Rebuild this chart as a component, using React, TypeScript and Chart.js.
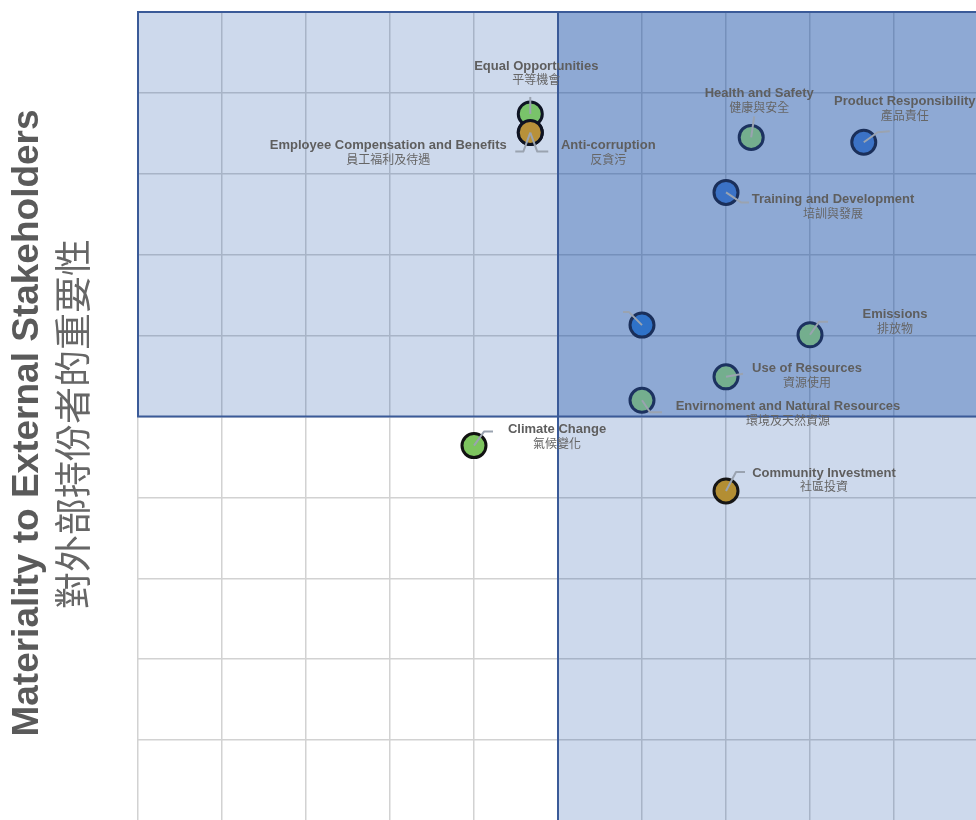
import React, { useEffect, useRef } from "react";
import { Chart, registerables } from "chart.js";

Chart.register(...registerables);

// ---- data ----
const topicsEn = [
  "Anti-corruption",
  "Equal Opportunities",
  "Employee Compensation and Benefits",
  "Health and Safety",
  "Product Responsibility",
  "Training and Development",
  "",
  "Emissions",
  "Use of Resources",
  "Envirnoment and Natural Resources",
  "Climate Change",
  "Community Investment",
];
const topicsZh = [
  "反貪污",
  "平等機會",
  "員工福利及待遇",
  "健康與安全",
  "產品責任",
  "培訓與發展",
  "",
  "排放物",
  "資源使用",
  "環境及天然資源",
  "氣候變化",
  "社區投資",
];
const importanceToBusiness = [4.67, 4.67, 4.67, 7.3, 8.64, 7.0, 6.0, 8.0, 7.0, 6.0, 4.0, 7.0];
const importanceToStakeholders = [8.51, 8.74, 8.51, 8.45, 8.39, 7.77, 6.13, 6.01, 5.49, 5.2, 4.64, 4.08];
const axisTitleEn = "Materiality to External Stakeholders";
const axisTitleZh = "對外部持份者的重要性";

// ---- styles / layout ----
const fillColors = [
  "#b8913a", "#79c36a", "#b8913a", "#74ae8e", "#3b72c6", "#3b72c6",
  "#2f72c8", "#74ae8e", "#74ae8e", "#74ae8e", "#7dc45e", "#b38e33",
];
const borderColors = [
  "#0e1322", "#0e1424", "#0e1322", "#1c3260", "#1a2f5a", "#1a2f5a",
  "#1a2f5a", "#1c3260", "#1c3260", "#1c3260", "#111111", "#161616",
];
// label centre offset (px) relative to point, and leader polyline
const labelOffsets: [number, number][] = [
  [78, 13], [6, -48], [-142, 13], [8, -44], [41, -41], [107, 7],
  [0, 0], [85, -20], [81, -8], [146, 6], [83, -16], [98, -18],
];
const leaders: [number, number][][] = [
  [[0, 0], [7, 19], [18, 19]],
  [[0, 0], [0, -17]],
  [[0, 0], [-7, 19], [-15, 19]],
  [[0, 0], [3, -21]],
  [[0, 0], [14, -10], [26, -11]],
  [[0, 0], [15, 10], [23, 10]],
  [[0, 0], [-13, -13], [-19, -13]],
  [[0, 0], [9, -13], [18, -13]],
  [[0, 0], [17, -3]],
  [[0, 0], [8, 12], [20, 12]],
  [[0, 0], [10, -14], [19, -14]],
  [[0, 0], [10, -19], [19, -19]],
];

const CANVAS_SHIFT_Y = -3;

const quadrantPlugin = {
  id: "quadrants",
  beforeDatasetsDraw(chart: any) {
    const { ctx } = chart;
    const xs = chart.scales.x;
    const ys = chart.scales.y;
    const px = (v: number) => xs.getPixelForValue(v);
    const py = (v: number) => ys.getPixelForValue(v);
    ctx.save();
    const light = "rgba(0,61,158,0.196)";
    const dark = "rgba(0,61,158,0.445)";
    ctx.fillStyle = light;
    ctx.fillRect(px(0), py(10), px(5) - px(0), py(5) - py(10));
    ctx.fillRect(px(5), py(5), px(10) - px(5), py(0) - py(5));
    ctx.fillStyle = dark;
    ctx.fillRect(px(5), py(10), px(10) - px(5), py(5) - py(10));
    ctx.strokeStyle = "#3a5a98";
    ctx.lineWidth = 2;
    ctx.strokeRect(px(0), py(10), px(10) - px(0), py(5) - py(10));
    ctx.beginPath();
    ctx.moveTo(px(5), py(10));
    ctx.lineTo(px(5), py(0));
    ctx.stroke();
    ctx.restore();
  },
  afterDatasetsDraw(chart: any) {
    const { ctx } = chart;
    const meta = chart.getDatasetMeta(0);
    ctx.save();
    ctx.strokeStyle = "#9aa3b0";
    ctx.lineWidth = 2;
    ctx.lineJoin = "round";
    meta.data.forEach((pt: any, i: number) => {
      const path = leaders[i];
      ctx.beginPath();
      path.forEach(([dx, dy], k) => {
        if (k === 0) ctx.moveTo(pt.x + dx, pt.y + dy);
        else ctx.lineTo(pt.x + dx, pt.y + dy);
      });
      ctx.stroke();
    });
    ctx.textAlign = "center";
    ctx.textBaseline = "middle";
    meta.data.forEach((pt: any, i: number) => {
      if (!topicsEn[i]) return;
      const [dx, dy] = labelOffsets[i];
      ctx.fillStyle = "#5e5e5e";
      ctx.font = "bold 13px 'Liberation Sans', Arial, sans-serif";
      ctx.fillText(topicsEn[i], pt.x + dx, pt.y + dy);
      ctx.fillStyle = "#666666";
      ctx.font = "12px 'Noto Sans CJK TC', sans-serif";
      ctx.fillText(topicsZh[i], pt.x + dx, pt.y + dy + 14);
    });
    ctx.restore();
  },
  afterDraw(chart: any) {
    const { ctx } = chart;
    ctx.save();
    ctx.translate(28, 423 - CANVAS_SHIFT_Y);
    ctx.rotate(-Math.PI / 2);
    ctx.textAlign = "center";
    ctx.textBaseline = "middle";
    ctx.fillStyle = "#5a5a5a";
    ctx.font = "bold 37px 'Liberation Sans', Arial, sans-serif";
    ctx.fillText(axisTitleEn, 0, 0);
    ctx.restore();
    ctx.save();
    ctx.translate(73, 424 - CANVAS_SHIFT_Y);
    ctx.rotate(-Math.PI / 2);
    ctx.textAlign = "center";
    ctx.textBaseline = "middle";
    ctx.fillStyle = "#666666";
    ctx.font = "37px 'Noto Sans CJK TC', sans-serif";
    ctx.fillText(axisTitleZh, 0, 0);
    ctx.restore();
  },
};

export default function App() {
  const ref = useRef<HTMLCanvasElement | null>(null);
  useEffect(() => {
    if (!ref.current) return;
    const points = importanceToBusiness.map((x, i) => ({ x, y: importanceToStakeholders[i] }));
    const chart = new Chart(ref.current, {
      type: "scatter",
      data: {
        datasets: [
          {
            data: points,
            pointRadius: 12,
            pointHoverRadius: 12,
            pointBorderWidth: 3,
            pointBackgroundColor: fillColors,
            pointBorderColor: borderColors,
          } as any,
        ],
      },
      options: {
        animation: false,
        responsive: false,
        devicePixelRatio: 1,
        layout: { padding: { left: 138, top: 12, right: 22, bottom: 26 } },
        plugins: { legend: { display: false }, tooltip: { enabled: false } },
        events: [],
        scales: {
          x: {
            type: "linear",
            min: 0,
            max: 10,
            ticks: { display: false, stepSize: 1 },
            grid: { color: "#d2d2d2", lineWidth: 1.5, drawTicks: false },
            border: { display: false },
          },
          y: {
            type: "linear",
            min: 0,
            max: 10,
            ticks: { display: false, stepSize: 1 },
            grid: { color: "#d2d2d2", lineWidth: 1.5, drawTicks: false },
            border: { display: false },
          },
        },
      },
      plugins: [quadrantPlugin],
    });
    return () => chart.destroy();
  }, []);
  return (
    <div
      style={{
        position: "fixed",
        left: 0,
        top: 0,
        width: 976,
        height: 820,
        overflow: "hidden",
        background: "#ffffff",
      }}
    >
      <canvas
        ref={ref}
        width={1000}
        height={850}
        style={{ position: "absolute", left: 0, top: CANVAS_SHIFT_Y, width: 1000, height: 850 }}
      />
    </div>
  );
}
